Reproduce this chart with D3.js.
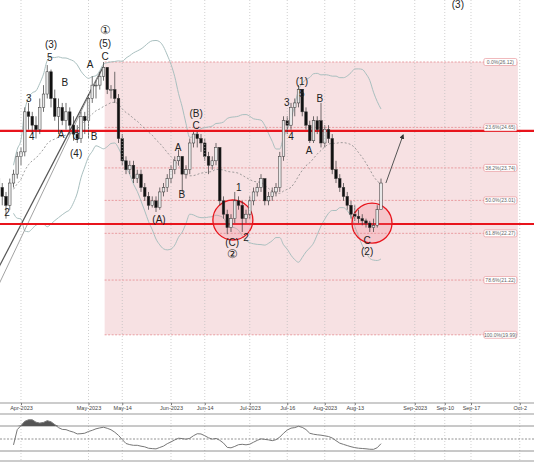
<!DOCTYPE html>
<html><head><meta charset="utf-8">
<script src="https://cdn.jsdelivr.net/npm/d3@7"></script>
<style>body{margin:0;background:#fff}svg{display:block;font-family:"Liberation Sans",Arial,sans-serif}</style>
</head><body>
<svg id="chart" width="534" height="462"></svg>
<script>
// daily bars [open, high, low, close], first bar is index -6
const firstIndex = -6;
const candles = [
 [23.5,23.6,23.2,23.3],[23.3,23.4,22.9,23.1],[23.1,23.2,22.6,22.9],[22.9,23.5,22.8,23.4],[23.4,23.7,23.3,23.6],[23.6,24.1,23.5,24.0],
 [24.0,24.2,23.8,24.1],[24.1,25.1,24.0,25.0],[25.0,25.2,24.6,24.9],[24.9,25.0,24.5,24.7],[24.7,24.9,24.4,24.6],[24.6,25.3,24.5,25.1],
 [25.1,25.6,25.0,25.4],[25.4,26.05,25.3,25.9],[25.9,25.95,25.1,25.3],[25.3,25.5,24.8,24.9],[24.9,25.3,24.5,25.1],[25.1,25.2,24.7,24.8],
 [24.8,25.2,24.6,25.0],[25.0,25.1,24.5,24.7],[24.7,24.9,24.35,24.5],[24.5,24.7,24.3,24.4],[24.4,25.0,24.3,24.9],[24.9,25.0,24.5,24.8],
 [24.8,25.4,24.4,25.3],[25.3,25.8,25.2,25.6],[25.6,25.7,25.3,25.6],[25.6,25.9,25.5,25.8],[25.8,26.12,25.7,26.0],[26.0,26.0,25.4,25.5],
 [25.5,25.6,25.3,25.5],[25.5,25.9,25.2,25.3],[25.3,25.4,24.3,24.4],[24.4,24.5,23.8,23.9],[23.9,24.0,23.6,23.7],[23.7,23.9,23.6,23.8],
 [23.8,23.9,23.4,23.5],[23.5,23.7,23.4,23.6],[23.6,23.7,23.2,23.3],[23.3,23.4,23.0,23.1],[23.1,23.2,22.8,22.9],[22.9,23.1,22.85,23.0],
 [23.0,23.1,22.75,22.85],[22.85,23.3,22.8,23.2],[23.2,23.4,23.1,23.3],[23.3,23.6,23.2,23.5],[23.5,23.8,23.4,23.7],[23.7,24.0,23.6,23.9],
 [23.9,24.15,23.8,24.0],[24.0,24.0,23.2,23.6],[23.6,23.8,23.5,23.7],[23.7,24.4,23.6,24.3],[24.3,24.55,24.2,24.5],[24.5,24.55,24.2,24.4],
 [24.4,24.5,24.1,24.3],[24.3,24.4,23.9,24.0],[24.0,24.1,23.6,23.8],[23.8,24.0,23.7,23.9],[23.9,24.3,23.8,24.2],[24.2,24.2,22.9,23.0],
 [23.0,23.1,22.6,22.7],[22.7,22.8,22.25,22.4],[22.4,22.7,22.3,22.6],[22.6,23.2,22.5,23.0],[23.0,23.1,22.8,22.9],[22.9,23.0,22.3,22.6],
 [22.6,22.8,22.5,22.7],[22.7,23.1,22.6,23.0],[23.0,23.3,22.9,23.2],[23.2,23.4,23.1,23.3],[23.3,23.6,23.2,23.5],[23.5,23.5,22.9,23.0],
 [23.0,23.2,22.9,23.1],[23.1,23.3,23.0,23.2],[23.2,23.4,23.1,23.3],[23.3,24.1,23.2,24.0],[24.0,24.9,23.9,24.8],[24.8,24.9,24.5,24.7],
 [24.7,25.2,24.6,25.1],[25.1,25.3,24.9,25.2],[25.2,25.6,25.1,25.5],[25.5,25.5,24.9,25.0],[25.0,25.1,24.6,24.7],[24.7,24.8,24.3,24.35],
 [24.35,24.9,24.3,24.8],[24.8,24.9,24.5,24.6],[24.8,25.2,24.2,24.3],[24.3,24.7,24.2,24.6],[24.6,24.7,24.3,24.4],[24.4,24.5,23.6,23.7],
 [23.7,23.9,23.4,23.5],[23.5,23.6,23.2,23.3],[23.3,23.4,23.0,23.1],[23.1,23.2,22.8,22.9],[22.9,23.0,22.6,22.7],[22.7,22.9,22.55,22.65],
 [22.65,22.8,22.5,22.6],[22.6,22.7,22.45,22.55],[22.55,22.6,22.4,22.5],[22.5,22.55,22.3,22.4],[22.4,22.6,22.3,22.45],[22.45,22.9,22.4,22.8],
 [22.8,23.5,22.8,23.4]
];

const tickIndex = [0, 18, 27, 40, 49, 61, 71, 81, 89, 105, 113, 120, 133];
const tickLabels = ["Apr-2023","May-2023","May-14","Jun-2023","Jun-14","Jul-2023","Jul-16","Aug-2023","Aug-13","Sep-2023","Sep-10","Sep-17","Oct-2"];

const fibPct = ["0.0%","23.6%","38.2%","50.0%","61.8%","78.6%","100.0%"];
const fibPrice = [26.12, 24.65, 23.74, 23.01, 22.27, 21.22, 19.99];
const fibStart = 22.3, fibEnd = 132.5;

const keyLevels = [24.57, 22.48];

// wave labels [bar index, price, text]
const waveLabels = [
 [8.0,26.50,"(3)"],[7.7,26.21,"5"],[2.1,25.27,"3"],[2.9,24.43,"4"],[11.7,25.63,"B"],[10.7,24.48,"A"],
 [14.7,24.43,"C"],[14.7,24.05,"(4)"],[18.4,26.05,"A"],[19.5,24.43,"B"],[22.4,26.82,"\u2460"],[22.4,26.52,"(5)"],
 [22.4,26.23,"C"],[46.7,24.95,"(B)"],[46.7,24.68,"C"],[41.9,24.19,"A"],[42.9,23.13,"B"],[36.8,22.57,"(A)"],
 [58.1,23.27,"1"],[-3.7,22.73,"2"],[56.3,22.05,"(C)"],[56.3,21.78,"\u2461"],[60.0,22.16,"2"],
 [74.9,25.67,"(1)"],[74.9,25.40,"5"],[70.9,25.18,"3"],[72.0,24.43,"4"],[76.8,24.12,"A"],[79.7,25.29,"B"],
 [92.3,22.10,"C"],[92.3,21.85,"(2)"],[116.5,27.40,"(3)"]
];
const circles = [[56.5,22.57],[93.6,22.5]];
const arrow = [[97.3,23.4],[101.9,24.48]];
const trendlines = [[[-2.13,22.12],[21.9,26.01]],[[-0.27,22.12],[21.07,25.9]]];

const svg = d3.select("#chart");
const W = 534;
const x = d3.scaleLinear().domain([-5.6, 136.8]).range([0, W]);
const y = d3.scaleLinear().domain([18.48, 27.513]).range([402, 0]);
const yOsc = d3.scaleLinear().domain([30, 70]).range([451, 426]);

svg.append("defs").append("clipPath").attr("id","clip")
 .append("rect").attr("width", W).attr("height", 402);
const main = svg.append("g").attr("clip-path","url(#clip)");

// fib zone
main.append("rect")
 .attr("x", x(fibStart)).attr("width", x(fibEnd) - x(fibStart))
 .attr("y", y(fibPrice[0])).attr("height", y(fibPrice[6]) - y(fibPrice[0]))
 .attr("fill","#f7e1e3");

// vertical grid
svg.append("g").selectAll("line").data(tickIndex).join("line")
 .attr("x1", d => x(d)).attr("x2", d => x(d)).attr("y1", 0).attr("y2", 462)
 .attr("stroke","#bbb").attr("stroke-width",0.7).attr("stroke-dasharray","1,2");

main.append("g").selectAll("line").data(fibPrice).join("line")
 .attr("x1", x(fibStart)).attr("x2", x(fibEnd))
 .attr("y1", d => y(d)).attr("y2", d => y(d))
 .attr("stroke","#e58a8f").attr("stroke-width",0.8).attr("stroke-dasharray","2,1.5");

// bollinger bands from closes
const closes = candles.map(d => d[3]);
const bb = closes.map((c, i) => {
  const w = closes.slice(Math.max(0, i - 19), i + 1);
  const m = d3.mean(w), s = d3.deviation(w) || 0;
  return { i: i + firstIndex, m, u: m + 2 * s, l: m - 2 * s };
}).slice(4);
const bline = k => d3.line().x(d => x(d.i)).y(d => y(d[k])).curve(d3.curveMonotoneX);
main.append("path").datum(bb).attr("d", bline("u")).attr("fill","none").attr("stroke","#a9bfbf").attr("stroke-width",1);
main.append("path").datum(bb).attr("d", bline("l")).attr("fill","none").attr("stroke","#a9bfbf").attr("stroke-width",1);
main.append("path").datum(bb).attr("d", bline("m")).attr("fill","none").attr("stroke","#888").attr("stroke-width",0.8).attr("stroke-dasharray","2,2");

// trendlines
trendlines.forEach((t, k) => {
  const [a, b] = t;
  const s = (b[1] - a[1]) / (b[0] - a[0]);
  const x0 = -8;
  main.append("line")
   .attr("x1", x(x0)).attr("y1", y(a[1] + s * (x0 - a[0])))
   .attr("x2", x(b[0])).attr("y2", y(b[1]))
   .attr("stroke", k ? "#999" : "#555").attr("stroke-width", k ? 0.9 : 1.2);
});

// key levels
main.append("g").selectAll("line").data(keyLevels).join("line")
 .attr("x1", 0).attr("x2", W).attr("y1", d => y(d)).attr("y2", d => y(d))
 .attr("stroke","#e8141c").attr("stroke-width",2.2);

// circles
main.append("g").selectAll("circle").data(circles).join("circle")
 .attr("cx", d => x(d[0])).attr("cy", d => y(d[1])).attr("r", 20)
 .attr("fill","rgba(240,120,130,0.25)").attr("stroke","#e8141c").attr("stroke-width",1.3);

// candles
const bw = 2.6;
const cg = main.append("g").selectAll("g").data(candles).join("g");
cg.append("line")
 .attr("x1", (d, i) => x(i + firstIndex)).attr("x2", (d, i) => x(i + firstIndex))
 .attr("y1", d => y(d[1])).attr("y2", d => y(d[2]))
 .attr("stroke","#333").attr("stroke-width",0.7);
cg.append("rect")
 .attr("x", (d, i) => x(i + firstIndex) - bw / 2).attr("width", bw)
 .attr("y", d => y(Math.max(d[0], d[3])))
 .attr("height", d => Math.max(0.8, Math.abs(y(d[0]) - y(d[3]))))
 .attr("fill", d => d[3] >= d[0] ? "#e8e8e8" : "#111")
 .attr("stroke","#333").attr("stroke-width",0.5);

// arrow
svg.append("defs").append("marker").attr("id","ah").attr("viewBox","0 0 10 10")
 .attr("refX",8).attr("refY",5).attr("markerWidth",5).attr("markerHeight",5).attr("orient","auto")
 .append("path").attr("d","M0,0L10,5L0,10z").attr("fill","#333");
main.append("line")
 .attr("x1", x(arrow[0][0])).attr("y1", y(arrow[0][1]))
 .attr("x2", x(arrow[1][0])).attr("y2", y(arrow[1][1]))
 .attr("stroke","#555").attr("stroke-width",1).attr("marker-end","url(#ah)");

// fib labels
const fl = svg.append("g").selectAll("g").data(fibPrice).join("g")
 .attr("transform", d => `translate(${x(fibEnd) - 1},${y(d)})`);
fl.append("rect").attr("x",-33).attr("y",-3.5).attr("width",33).attr("height",7).attr("rx",1.5)
 .attr("fill","#fff").attr("stroke","#e58a8f").attr("stroke-width",0.6);
fl.append("text").attr("x",-16.5).attr("y",2).attr("text-anchor","middle")
 .attr("font-size",5).attr("fill","#666")
 .text((d, i) => `${fibPct[i]}(${d.toFixed(2)})`);

// wave labels
svg.append("g").selectAll("text").data(waveLabels).join("text")
 .attr("x", d => x(d[0])).attr("y", d => y(d[1]))
 .attr("text-anchor","middle").attr("dominant-baseline","middle")
 .attr("font-size", d => d[2].length === 1 && d[2] > "\u2000" ? 12 : 10)
 .attr("fill","#222").text(d => d[2]);

// axis band
svg.append("line").attr("x1",0).attr("x2",W).attr("y1",403).attr("y2",403).attr("stroke","#999");
svg.append("line").attr("x1",0).attr("x2",W).attr("y1",414).attr("y2",414).attr("stroke","#999");
const axis = d3.axisBottom(x).tickValues(tickIndex).tickFormat((d, i) => tickLabels[i]).tickSize(2).tickSizeOuter(0);
const ax = svg.append("g").attr("transform","translate(0,403)").call(axis);
ax.select(".domain").remove();
ax.selectAll("text").attr("font-size",5.5).attr("fill","#444").attr("dy","0.4em");
ax.selectAll("line").attr("stroke","#777");

// oscillator panel: Wilder RSI 14 from closes, lightly smoothed
const rsi = [];
let ag = 0, al = 0;
for (let i = 1; i < closes.length; i++) {
  const ch = closes[i] - closes[i - 1];
  const n = Math.min(i, 14);
  ag = (ag * (n - 1) + Math.max(ch, 0)) / n;
  al = (al * (n - 1) + Math.max(-ch, 0)) / n;
  rsi.push({ i: i + firstIndex, v: al === 0 ? 100 : 100 - 100 / (1 + ag / al) });
}
const osc = rsi.map((d, k) => ({ i: d.i, v: d3.mean(rsi.slice(Math.max(0, k - 2), k + 1), e => e.v) })).slice(3);
[426, 451].forEach(v => svg.append("line").attr("x1",0).attr("x2",W).attr("y1",v).attr("y2",v).attr("stroke","#777").attr("stroke-width",0.8));
svg.append("line").attr("x1",0).attr("x2",W).attr("y1",439).attr("y2",439).attr("stroke","#777").attr("stroke-width",0.8).attr("stroke-dasharray","2,1.5");
svg.append("line").attr("x1",0).attr("x2",W).attr("y1",461).attr("y2",461).attr("stroke","#999");
svg.append("path").datum(osc)
 .attr("d", d3.area().x(d => x(d.i)).y0(yOsc(70)).y1(d => yOsc(Math.max(70, Math.min(d.v, 88)))))
 .attr("fill","#555");
svg.append("path").datum(osc)
 .attr("d", d3.line().x(d => x(d.i)).y(d => yOsc(Math.max(15, Math.min(d.v, 88)))))
 .attr("fill","none").attr("stroke","#777").attr("stroke-width",1);
</script>
</body></html>
